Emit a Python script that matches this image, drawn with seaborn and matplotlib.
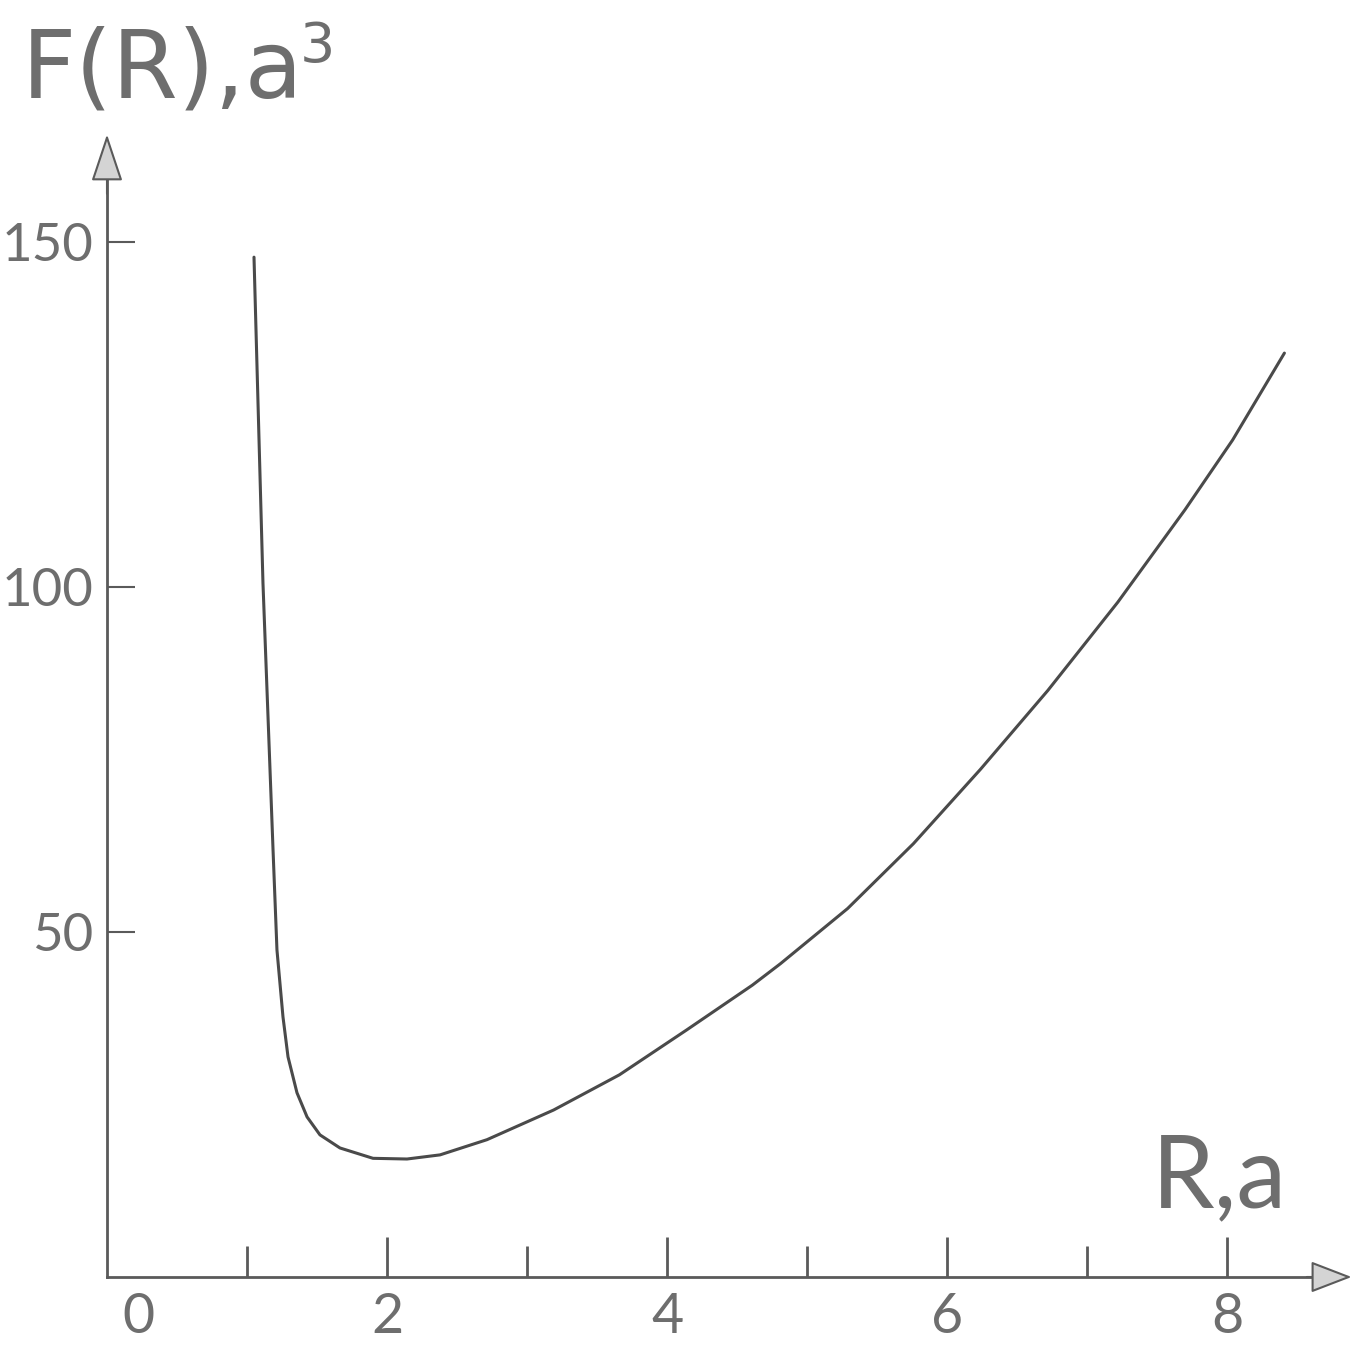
import matplotlib
matplotlib.use("Agg")
import matplotlib.pyplot as plt
import seaborn as sns
import pandas as pd

R_values = [1.050, 1.114, 1.186, 1.214, 1.257, 1.293, 1.357, 1.429, 1.521,
            1.664, 1.900, 2.143, 2.379, 2.714, 3.19, 3.66, 4.14, 4.61, 4.81,
            5.29, 5.76, 6.24, 6.72, 7.22, 7.70, 8.04, 8.41]
F_values = [147.8, 100.6, 61.9, 47.4, 37.7, 31.9, 26.7, 23.2, 20.6,
            18.7, 17.2, 17.1, 17.7, 19.9, 24.2, 29.3, 35.8, 42.3, 45.4,
            53.4, 62.8, 73.6, 85.0, 97.8, 111.2, 121.3, 133.9]

x_major_ticks = [2, 4, 6, 8]
x_minor_ticks = [1, 3, 5, 7]
y_ticks = [50, 100, 150]
x_label = "R,a"
y_label = "F(R),a"
y_label_sup = "3"

df = pd.DataFrame({"R": R_values, "F": F_values})

sns.set_theme(style="white")
plt.rcParams["font.family"] = ["Lato", "DejaVu Sans"]

W, H = 1354, 1351
fig = plt.figure(figsize=(W / 100, H / 100), dpi=100)
fig.patch.set_facecolor("white")
ax = fig.add_axes([0, 0, 1, 1])
ax.set_facecolor("white")

x0_px, xunit = 107, 140.0
y0_px, yunit = 1277, 6.9
ax.set_xlim(-x0_px / xunit, (W - x0_px) / xunit)
ax.set_ylim((y0_px - H) / yunit, y0_px / yunit)

line_col = "#4a4a4a"
axis_col = "#5a5a5a"
text_col = "#6e6e6e"
tick_font = ["Lato", "DejaVu Sans"]
xtick_size = 40
ytick_size = 38

sns.lineplot(data=df, x="R", y="F", ax=ax, color=line_col, linewidth=2.2,
             legend=False, sort=True)
ax.set_xlabel("")
ax.set_ylabel("")

# axes lines
x_arrow_base, x_arrow_tip = 8.62, 8.89
y_arrow_base, y_arrow_tip = 159.0, 165.6
for name in ["top", "right"]:
    ax.spines[name].set_visible(False)
ax.spines["left"].set_position(("data", 0))
ax.spines["bottom"].set_position(("data", 0))
ax.spines["left"].set_bounds(0, y_arrow_base)
ax.spines["bottom"].set_bounds(0, x_arrow_base)
for name in ["left", "bottom"]:
    ax.spines[name].set_color(axis_col)
    ax.spines[name].set_linewidth(2.0)

ax.annotate("", xy=(0, y_arrow_tip), xytext=(0, y_arrow_base - 2),
            arrowprops=dict(arrowstyle="-|>,head_length=1.5,head_width=0.5",
                            mutation_scale=20, lw=1.5, ec=axis_col, fc="#d4d4d4",
                            shrinkA=0, shrinkB=0))
ax.annotate("", xy=(x_arrow_tip, 0), xytext=(x_arrow_base - 0.05, 0),
            arrowprops=dict(arrowstyle="-|>,head_length=1.3,head_width=0.5",
                            mutation_scale=20, lw=1.5, ec=axis_col, fc="#d4d4d4",
                            shrinkA=0, shrinkB=0))

# ticks
ax.set_xticks(x_major_ticks)
ax.set_xticks(x_minor_ticks, minor=True)
ax.set_xticklabels([str(t) for t in x_major_ticks])
ax.set_yticks(y_ticks)
ax.set_yticklabels([str(t) for t in y_ticks])
ax.tick_params(axis="x", which="major", direction="in", length=29, width=2.0,
               color=axis_col, pad=11, labelsize=xtick_size, labelcolor=text_col,
               bottom=True)
ax.tick_params(axis="x", which="minor", direction="in", length=22, width=2.0,
               color=axis_col, bottom=True)
ax.tick_params(axis="y", which="major", direction="in", length=20, width=1.5,
               color=axis_col, pad=10, labelsize=ytick_size, labelcolor=text_col,
               left=True)
for lab in ax.get_xticklabels() + ax.get_yticklabels():
    lab.set_family(tick_font)

# "0" label at origin (offset as in reference)
fig.text(138 / W, 1 - 1292 / H, "0", ha="center", va="top", fontsize=xtick_size,
         color=text_col, family=tick_font)

# axis titles
fig.text(22 / W, 1 - 97 / H, y_label, ha="left", va="baseline", fontsize=68,
         color=text_col, family=["DejaVu Sans"])
fig.text(300 / W, 1 - 62 / H, y_label_sup, ha="left", va="baseline",
         fontsize=40, color=text_col, family=["DejaVu Sans"])
fig.text(1152 / W, 1 - 1207 / H, x_label, ha="left", va="baseline",
         fontsize=72, color=text_col)

fig.savefig("out.png", dpi=100, facecolor="white")
